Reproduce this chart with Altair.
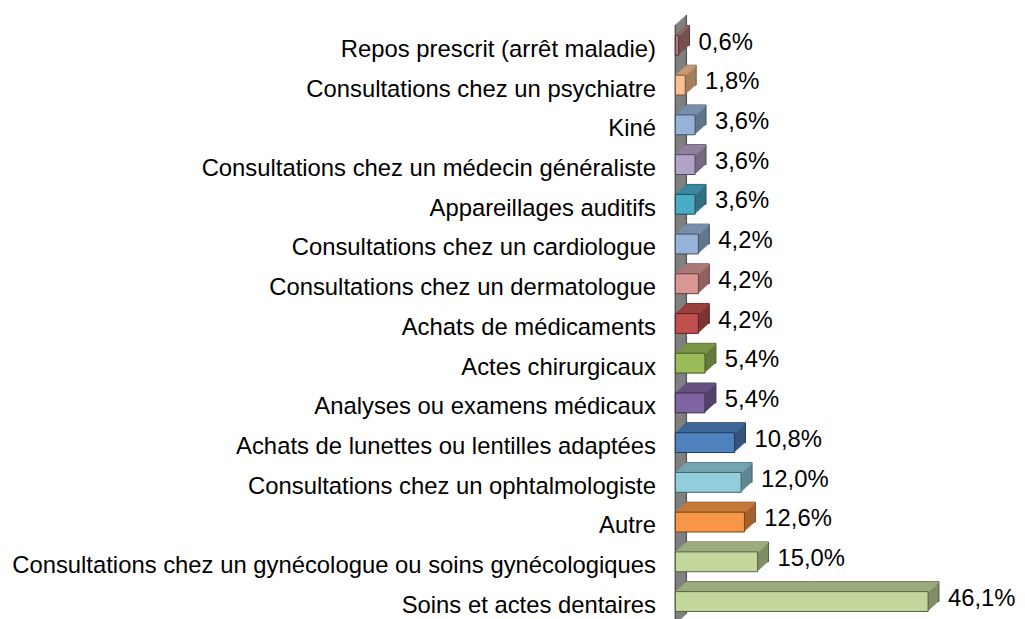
import altair as alt
import pandas as pd

categories = [
    "Repos prescrit (arrêt maladie)",
    "Consultations chez un psychiatre",
    "Kiné",
    "Consultations chez un médecin généraliste",
    "Appareillages auditifs",
    "Consultations chez un cardiologue",
    "Consultations chez un dermatologue",
    "Achats de médicaments",
    "Actes chirurgicaux",
    "Analyses ou examens médicaux",
    "Achats de lunettes ou lentilles adaptées",
    "Consultations chez un ophtalmologiste",
    "Autre",
    "Consultations chez un gynécologue ou soins gynécologiques",
    "Soins et actes dentaires",
]
values = [0.6, 1.8, 3.6, 3.6, 3.6, 4.2, 4.2, 4.2, 5.4, 5.4, 10.8, 12.0, 12.6, 15.0, 46.1]
labels = [f"{v:.1f}".replace(".", ",") + "%" for v in values]

front_colors = ["#B47C7C", "#FAC090", "#95B3D7", "#B3A2C7", "#4BACC6", "#95B3D7", "#D99694",
                "#C0504D", "#9BBB59", "#8064A2", "#4F81BD", "#92CDDC", "#F79646", "#C3D69B", "#C3D69B"]


def shade(hex_color, f):
    r, g, b = (int(hex_color[i:i + 2], 16) for i in (1, 3, 5))
    return "#{:02x}{:02x}{:02x}".format(int(r * f), int(g * f), int(b * f))


top_colors = [shade(c, 0.80) for c in front_colors]
side_colors = [shade(c, 0.66) for c in front_colors]
edge_colors = [shade(c, 0.45) for c in front_colors]

df = pd.DataFrame({"category": categories, "value": values, "label": labels,
                   "front": front_colors, "top": top_colors, "side": side_colors, "edge": edge_colors})
wall = pd.DataFrame({"v": [0.0]})

FONT = "Liberation Sans"
FS = 24.0
DX, DY, N = 11, 10, 11
STEPX = DX / N
STEPY = DY / N
BAR = 20
SHIFT = -2.5  # front face centre relative to band centre

y_enc = alt.Y("category:N", sort=categories, title=None,
              axis=alt.Axis(ticks=False, domain=False, labelFont=FONT, labelFontSize=FS,
                            labelColor="#000000", labelPadding=20, labelLimit=1000, labelOffset=2))
x_enc = alt.X("value:Q", scale=alt.Scale(domain=[0, 50]), axis=None)
x_wall = alt.X("v:Q", scale=alt.Scale(domain=[0, 50]), axis=None)

layers = []

# 3D wall (axis)
for i in range(N + 1):
    layers.append(
        alt.Chart(wall).mark_rule(color="#808080", strokeWidth=1.6,
                                  xOffset=i * STEPX, x2Offset=i * STEPX,
                                  yOffset=-i * STEPY, y2Offset=-i * STEPY)
        .encode(x=x_wall, y=alt.value(-3), y2=alt.value(600))
    )
for i in (0, N):
    layers.append(
        alt.Chart(wall).mark_rule(color="#4a4a4a", strokeWidth=1,
                                  xOffset=i * STEPX, x2Offset=i * STEPX,
                                  yOffset=-i * STEPY, y2Offset=-i * STEPY)
        .encode(x=x_wall, y=alt.value(-3), y2=alt.value(600))
    )

base = alt.Chart(df)

# side extrusion (back to front)
for i in range(N, 0, -1):
    off = dict(size=BAR, xOffset=i * STEPX, x2Offset=i * STEPX, yOffset=SHIFT - i * STEPY)
    if i == N:
        layers.append(base.mark_bar(strokeWidth=1, **off)
                      .encode(x=x_enc, y=y_enc, color=alt.Color("side:N", scale=None),
                              stroke=alt.Stroke("edge:N", scale=None)))
    else:
        layers.append(base.mark_bar(**off)
                      .encode(x=x_enc, y=y_enc, color=alt.Color("side:N", scale=None)))

# top face extrusion
for i in range(N, 0, -1):
    layers.append(
        base.mark_bar(size=2, xOffset=i * STEPX - 0.5, x2Offset=i * STEPX - 0.5,
                      yOffset=SHIFT - BAR / 2 + 1 - i * STEPY)
        .encode(x=x_enc, y=y_enc, color=alt.Color("top:N", scale=None))
    )

# front face
layers.append(
    base.mark_bar(size=BAR, yOffset=SHIFT, strokeWidth=1)
    .encode(x=x_enc, y=y_enc, color=alt.Color("front:N", scale=None),
            stroke=alt.Stroke("edge:N", scale=None))
)

# value labels
layers.append(
    base.mark_text(align="left", baseline="middle", dx=DX + 9, dy=-5.3, font=FONT, fontSize=FS,
                   color="#000000")
    .encode(x=x_enc, y=y_enc, text="label:N")
)

chart = (
    alt.layer(*layers)
    .properties(width=276, height=600,
                padding={"left": 672, "top": 18, "right": 68, "bottom": 0},
                autosize=alt.AutoSizeParams(type="none"),
                background="#ffffff")
    .configure_view(stroke=None)
)

chart.save("out.html", embed_options={"renderer": "svg", "actions": False})
